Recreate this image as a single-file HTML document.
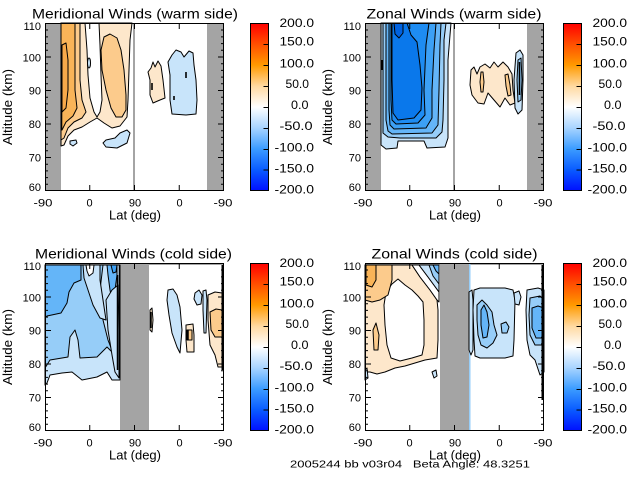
<!DOCTYPE html>
<html><head><meta charset="utf-8"><style>
html,body{margin:0;padding:0;background:#fff;}
svg{display:block;}
text{font-family:"Liberation Sans",sans-serif;fill:#000;}
</style></head><body>
<svg width="640" height="480" viewBox="0 0 640 480" xmlns="http://www.w3.org/2000/svg">
<defs>
<linearGradient id="cb" x1="0" y1="0" x2="0" y2="1">
<stop offset="0" stop-color="#ff0000"/>
<stop offset="0.125" stop-color="#ff5000"/>
<stop offset="0.25" stop-color="#ff9a00"/>
<stop offset="0.375" stop-color="#ffd9a0"/>
<stop offset="0.5" stop-color="#ffffff"/>
<stop offset="0.625" stop-color="#a8d4ff"/>
<stop offset="0.75" stop-color="#3c9cff"/>
<stop offset="0.875" stop-color="#0a5cff"/>
<stop offset="1" stop-color="#0010ff"/>
</linearGradient>
</defs>
<rect width="640" height="480" fill="#fff"/>

<!-- ================= TL ================= -->
<g stroke="#000" stroke-width="1" stroke-linejoin="round">
<rect x="45" y="23" width="179" height="168" fill="#fff" stroke="none"/>
<rect x="45" y="23" width="16" height="168" fill="#a4a4a4" stroke="none"/>
<rect x="207" y="23" width="17" height="168" fill="#a4a4a4" stroke="none"/>
<rect x="133" y="23" width="2" height="168" fill="#a4a4a4" stroke="none"/>
<polygon fill="#fde7cb" points="61,23 132,23 130,40 129,70 128,100 127,117 120,126 112,128 104,123 97,118 90,122 82,127 74,130 68,136 64,145 61,146"/>
<polygon fill="#fccb8c" points="104,37 110,34 117,38 121,50 124,70 126,95 126,110 122,117 116,117 111,108 106,90 102,70 101,50"/>
<polygon fill="#ffffff" points="85,23 99,23 100,45 101,75 102,100 100,112 97,117 94,112 90,98 88,75 87,50"/>
<polygon fill="#fccb8c" points="61,23 80,23 80,45 80,80 82,100 86,112 82,118 74,122 68,128 64,138 61,140"/>
<polygon fill="#f9b458" points="61,23 75,23 75,50 75,90 77,108 73,116 66,122 62,130 61,130"/>
<polygon fill="#f7a94a" points="62,45 66,43 68,60 68,90 66,108 62,112"/>
<ellipse cx="89" cy="63" rx="1.5" ry="5" fill="#c8e4fa"/>
<polygon fill="#fde7cb" points="151,68 153,62 155,67 158,61 161,66 163,80 165,98 160,100 153,103 150,95 150,80 148,72"/>
<polygon fill="#c8e4fa" points="172,55 176,50 181,52 184,57 189,51 193,53 194,65 196,80 197,100 196,114 186,115 172,114 170,100 170,75 168,62"/>
<polygon fill="#c8e4fa" points="106,140 115,138 120,133 127,130 130,133 127,143 117,148 106,147 103,143"/>
<polygon fill="#c8e4fa" points="70,141 76,140 77,143 73,146 70,144"/>
<path d="M61.5,85V130M186,72V78M174,96V100M152,83V90" fill="none" stroke-width="1.6"/>
</g>

<!-- ================= TR ================= -->
<g stroke="#000" stroke-width="1" stroke-linejoin="round">
<rect x="365" y="23" width="179" height="168" fill="#fff" stroke="none"/>
<rect x="365" y="23" width="16" height="168" fill="#a4a4a4" stroke="none"/>
<rect x="527" y="23" width="17" height="168" fill="#a4a4a4" stroke="none"/>
<rect x="453" y="23" width="2" height="168" fill="#a4a4a4" stroke="none"/>
<polygon fill="#c8e4fa" points="381,23 451,23 450,35 448,60 448,100 448,138 445,147 427,148 424,141 398,141 397,148 386,149 381,145"/>
<polygon fill="#96cdf8" points="383,23 446,23 444,40 444,80 443,120 442,132 436,138 400,138 388,137 383,133"/>
<polygon fill="#64b5f8" points="386,23 441,23 440,45 439,90 438,125 432,133 392,134 388,131 386,120"/>
<polygon fill="#3ca0f5" points="389,23 436,23 434,50 432,90 432,118 426,128 394,129 390,125 389,110"/>
<polygon fill="#1e8cf2" points="391,23 429,23 426,45 424,90 425,115 418,123 396,124 392,120 391,100"/>
<polygon fill="#0a78eb" points="392,23 407,23 411,35 417,42 420,65 422,88 421,110 414,118 398,120 393,113 392,80"/>
<polygon fill="#0062e0" points="394,23 403,23 403,33 399,38 395,34"/>
<polygon fill="#fde7cb" points="471,70 474,67 477,74 480,67 485,64 490,68 494,62 498,67 503,62 508,67 512,74 513,90 515,103 510,105 505,98 500,107 494,100 488,93 484,104 478,103 472,95 470,85"/>
<polygon fill="#fccb8c" points="481,72 483,72 484,82 483,92 481,92 480,82"/>
<polygon fill="#fccb8c" points="505,75 508,74 510,85 511,95 508,96 506,86"/>
<polygon fill="#c8e4fa" points="516,53 520,50 523,55 523,80 522,110 518,114 515,108 514,80"/>
<polygon fill="#96cdf8" points="518,60 521,58 522,80 521,100 518,102 517,80"/>
<path d="M519.5,62V95M382,60V70" fill="none" stroke-width="1.6"/>
</g>

<!-- ================= BL ================= -->
<g stroke="#000" stroke-width="1" stroke-linejoin="round">
<rect x="45" y="263" width="179" height="168" fill="#fff" stroke="none"/>
<rect x="120" y="263" width="29" height="168" fill="#a4a4a4" stroke="none"/>
<rect x="45" y="263" width="179" height="2" fill="#a4a4a4" stroke="none"/>
<polygon fill="#c8e4fa" points="45,265 120,265 120,380 112,380 107,372 97,377 82,380 72,372 62,373 50,375 47,383 45,385"/>
<polygon fill="#96cdf8" points="45,265 103,265 100,290 103,320 108,340 113,353 107,347 97,357 80,358 78,340 75,330 70,337 68,357 50,360 45,368"/>
<polygon fill="#c8e4fa" points="83,265 100,265 100,280 103,300 106,320 100,318 93,305 88,290 84,278"/>
<polygon fill="#ffffff" points="86,265 94,265 93,273 89,276 87,271"/>
<polygon fill="#64b5f8" points="45,265 81,265 81,280 74,283 69,292 67,303 61,313 47,316 45,318"/>
<polygon fill="#64b5f8" points="107,265 117,265 117,275 115,290 112,300 110,290 108,275"/>
<polygon fill="#3ca0f5" points="111,265 117,265 116,272 113,273"/>
<polygon fill="#c8e4fa" points="106,300 112,290 118,285 119,330 119,378 115,372 112,355 108,330"/>
<polygon fill="#fde7cb" points="150,310 152,308 153,320 152,332 150,330"/>
<polygon fill="#c8e4fa" points="168,290 173,289 177,295 180,307 182,330 180,353 177,347 172,333 169,315 167,300"/>
<polygon fill="#fde7cb" points="186,325 193,324 194,335 194,352 187,352 186,340"/>
<polygon fill="#fccb8c" points="187,330 192,330 192,340 187,340"/>
<polygon fill="#c8e4fa" points="195,293 199,290 202,295 201,304 197,305 194,299"/>
<polygon fill="#c8e4fa" points="203,291 206,290 207,300 206,333 204,333 203,310"/>
<polygon fill="#fde7cb" points="208,295 215,292 222,293 222,367 218,367 215,355 210,345 208,320"/>
<polygon fill="#fccb8c" points="210,312 216,309 222,310 222,337 215,337 211,330"/>
<path d="M117.5,275V370M119.5,265V378M188,330V340M151,312V328" fill="none" stroke-width="1.5"/>
<path d="M222.5,265V370" fill="none" stroke-width="2"/>
</g>

<!-- ================= BR ================= -->
<g stroke="#000" stroke-width="1" stroke-linejoin="round">
<rect x="365" y="263" width="179" height="168" fill="#fff" stroke="none"/>
<rect x="440" y="263" width="29" height="168" fill="#a4a4a4" stroke="none"/>
<rect x="365" y="263" width="75" height="2" fill="#a4a4a4" stroke="none"/>
<rect x="469" y="263" width="75" height="2" fill="#a4a4a4" stroke="none"/>
<rect x="469" y="263" width="1.5" height="168" fill="#96cdf8" stroke="none"/>
<polygon fill="#fde7cb" points="365,265 412,265 420,277 430,290 437,300 438,310 438,340 437,358 425,360 415,363 405,366 395,368 385,372 377,374 370,372 365,372"/>
<polygon fill="#ffffff" points="386,292 392,284 398,279 405,285 412,290 418,296 423,302 424,320 424,345 422,355 412,358 400,361 391,358 387,345 385,325 384,305"/>
<polygon fill="#ffffff" points="412,265 419,265 428,277 439,292 439,302 437,300 430,290 420,277"/>
<polygon fill="#c8e4fa" points="419,265 439,265 439,292 428,277"/>
<polygon fill="#96cdf8" points="429,265 439,265 439,284 433,276"/>
<polygon fill="#64b5f8" points="433,265 439,265 439,274 436,271"/>
<polygon fill="#fccb8c" points="365,265 392,265 392,280 388,295 380,300 372,302 365,300"/>
<polygon fill="#f9b458" points="366,265 376,265 376,280 372,287 366,285"/>
<polygon fill="#fccb8c" points="373,330 376,323 379,335 378,350 374,350"/>
<polygon fill="#c8e4fa" points="365,370 367,368 368,378 365,380"/>
<polygon fill="#c8e4fa" points="432,372 436,370 437,376 434,378"/>
<polygon fill="#c8e4fa" points="474,290 480,288 505,288 513,290 515,300 514,340 513,356 505,358 480,358 475,356 474,340 473,310"/>
<polygon fill="#c8e4fa" points="469,292 472,290 473,300 473,350 471,355 469,350"/>
<polygon fill="#96cdf8" points="477,305 482,300 487,305 492,312 494,325 497,335 493,343 487,348 481,345 478,335 477,320"/>
<polygon fill="#64b5f8" points="481,310 484,305 487,312 489,325 487,337 483,338 481,325"/>
<polygon fill="#96cdf8" points="501,324 506,322 509,327 507,333 502,333"/>
<polygon fill="#c8e4fa" points="514,293 519,291 521,297 519,305 515,304"/>
<polygon fill="#c8e4fa" points="527,290 538,288 544,290 544,372 540,375 535,360 530,355 527,340 526,310"/>
<polygon fill="#96cdf8" points="530,298 540,296 544,300 544,345 535,345 530,335 529,315"/>
<polygon fill="#64b5f8" points="532,308 538,306 544,308 544,338 536,338 532,328"/>
<path d="M542.5,265V400" fill="none" stroke-width="2"/>
</g>

<!-- ================= Axes boxes & ticks ================= -->
<g id="ax" fill="none" stroke="#000" stroke-width="1">
<g transform="translate(45,23)">
<rect x="0.5" y="0.5" width="178" height="167"/>
<path d="M0,0.5h6M0,34h6M0,67.5h6M0,101h6M0,134.5h6M0,167.5h6M0,7h3M0,13.9h3M0,20.6h3M0,27.3h3M0,40.7h3M0,47.4h3M0,54.1h3M0,60.8h3M0,74.2h3M0,80.9h3M0,87.6h3M0,94.3h3M0,107.7h3M0,114.4h3M0,121.1h3M0,127.8h3M0,141.2h3M0,147.9h3M0,154.6h3M0,161.3h3"/>
<path d="M179,0.5h-6M179,34h-6M179,67.5h-6M179,101h-6M179,134.5h-6M179,167.5h-6M179,7h-3M179,13.9h-3M179,20.6h-3M179,27.3h-3M179,40.7h-3M179,47.4h-3M179,54.1h-3M179,60.8h-3M179,74.2h-3M179,80.9h-3M179,87.6h-3M179,94.3h-3M179,107.7h-3M179,114.4h-3M179,121.1h-3M179,127.8h-3M179,141.2h-3M179,147.9h-3M179,154.6h-3M179,161.3h-3"/>
<path d="M44.75,168v-6M89.5,168v-6M134.25,168v-6M44.75,0v6M89.5,0v6M134.25,0v6"/>
</g>
<g transform="translate(365,23)">
<rect x="0.5" y="0.5" width="178" height="167"/>
<path d="M0,0.5h6M0,34h6M0,67.5h6M0,101h6M0,134.5h6M0,167.5h6M0,7h3M0,13.9h3M0,20.6h3M0,27.3h3M0,40.7h3M0,47.4h3M0,54.1h3M0,60.8h3M0,74.2h3M0,80.9h3M0,87.6h3M0,94.3h3M0,107.7h3M0,114.4h3M0,121.1h3M0,127.8h3M0,141.2h3M0,147.9h3M0,154.6h3M0,161.3h3"/>
<path d="M179,0.5h-6M179,34h-6M179,67.5h-6M179,101h-6M179,134.5h-6M179,167.5h-6M179,7h-3M179,13.9h-3M179,20.6h-3M179,27.3h-3M179,40.7h-3M179,47.4h-3M179,54.1h-3M179,60.8h-3M179,74.2h-3M179,80.9h-3M179,87.6h-3M179,94.3h-3M179,107.7h-3M179,114.4h-3M179,121.1h-3M179,127.8h-3M179,141.2h-3M179,147.9h-3M179,154.6h-3M179,161.3h-3"/>
<path d="M44.75,168v-6M89.5,168v-6M134.25,168v-6M44.75,0v6M89.5,0v6M134.25,0v6"/>
</g>
<g transform="translate(45,263)">
<rect x="0.5" y="0.5" width="178" height="167"/>
<path d="M0,0.5h6M0,34h6M0,67.5h6M0,101h6M0,134.5h6M0,167.5h6M0,7h3M0,13.9h3M0,20.6h3M0,27.3h3M0,40.7h3M0,47.4h3M0,54.1h3M0,60.8h3M0,74.2h3M0,80.9h3M0,87.6h3M0,94.3h3M0,107.7h3M0,114.4h3M0,121.1h3M0,127.8h3M0,141.2h3M0,147.9h3M0,154.6h3M0,161.3h3"/>
<path d="M179,0.5h-6M179,34h-6M179,67.5h-6M179,101h-6M179,134.5h-6M179,167.5h-6M179,7h-3M179,13.9h-3M179,20.6h-3M179,27.3h-3M179,40.7h-3M179,47.4h-3M179,54.1h-3M179,60.8h-3M179,74.2h-3M179,80.9h-3M179,87.6h-3M179,94.3h-3M179,107.7h-3M179,114.4h-3M179,121.1h-3M179,127.8h-3M179,141.2h-3M179,147.9h-3M179,154.6h-3M179,161.3h-3"/>
<path d="M44.75,168v-6M89.5,168v-6M134.25,168v-6M44.75,0v6M89.5,0v6M134.25,0v6"/>
</g>
<g transform="translate(365,263)">
<rect x="0.5" y="0.5" width="178" height="167"/>
<path d="M0,0.5h6M0,34h6M0,67.5h6M0,101h6M0,134.5h6M0,167.5h6M0,7h3M0,13.9h3M0,20.6h3M0,27.3h3M0,40.7h3M0,47.4h3M0,54.1h3M0,60.8h3M0,74.2h3M0,80.9h3M0,87.6h3M0,94.3h3M0,107.7h3M0,114.4h3M0,121.1h3M0,127.8h3M0,141.2h3M0,147.9h3M0,154.6h3M0,161.3h3"/>
<path d="M179,0.5h-6M179,34h-6M179,67.5h-6M179,101h-6M179,134.5h-6M179,167.5h-6M179,7h-3M179,13.9h-3M179,20.6h-3M179,27.3h-3M179,40.7h-3M179,47.4h-3M179,54.1h-3M179,60.8h-3M179,74.2h-3M179,80.9h-3M179,87.6h-3M179,94.3h-3M179,107.7h-3M179,114.4h-3M179,121.1h-3M179,127.8h-3M179,141.2h-3M179,147.9h-3M179,154.6h-3M179,161.3h-3"/>
<path d="M44.75,168v-6M89.5,168v-6M134.25,168v-6M44.75,0v6M89.5,0v6M134.25,0v6"/>
</g>
</g>

<!-- ================= Colorbars ================= -->
<g stroke="#000" stroke-width="1" fill="none">
<rect x="250.5" y="23.5" width="18" height="167" fill="url(#cb)"/>
<path d="M268.5,44.5h-5M268.5,65.5h-5M268.5,86.5h-5M268.5,107.5h-5M268.5,128.5h-5M268.5,149.5h-5M268.5,170h-5"/>
<rect x="563.5" y="23.5" width="18" height="167" fill="url(#cb)"/>
<path d="M581.5,44.5h-5M581.5,65.5h-5M581.5,86.5h-5M581.5,107.5h-5M581.5,128.5h-5M581.5,149.5h-5M581.5,170h-5"/>
<rect x="250.5" y="263.5" width="18" height="167" fill="url(#cb)"/>
<path d="M268.5,284.5h-5M268.5,305.5h-5M268.5,326.5h-5M268.5,347.5h-5M268.5,368.5h-5M268.5,389.5h-5M268.5,410h-5"/>
<rect x="563.5" y="263.5" width="18" height="167" fill="url(#cb)"/>
<path d="M581.5,284.5h-5M581.5,305.5h-5M581.5,326.5h-5M581.5,347.5h-5M581.5,368.5h-5M581.5,389.5h-5M581.5,410h-5"/>
</g>

<!-- ================= Text ================= -->
<g font-size="14" text-anchor="middle">
<text x="135" y="18.5" textLength="206" lengthAdjust="spacingAndGlyphs">Meridional Winds (warm side)</text>
<text x="454" y="18.5" textLength="175" lengthAdjust="spacingAndGlyphs">Zonal Winds (warm side)</text>
<text x="133.5" y="258.5" textLength="197" lengthAdjust="spacingAndGlyphs">Meridional Winds (cold side)</text>
<text x="454.5" y="258.5" textLength="166" lengthAdjust="spacingAndGlyphs">Zonal Winds (cold side)</text>
</g>
<g font-size="13" text-anchor="middle">
<text transform="translate(12,107) rotate(-90)" textLength="76" lengthAdjust="spacingAndGlyphs">Altitude (km)</text>
<text transform="translate(332,107) rotate(-90)" textLength="76" lengthAdjust="spacingAndGlyphs">Altitude (km)</text>
<text transform="translate(12,347) rotate(-90)" textLength="76" lengthAdjust="spacingAndGlyphs">Altitude (km)</text>
<text transform="translate(332,347) rotate(-90)" textLength="76" lengthAdjust="spacingAndGlyphs">Altitude (km)</text>
<text x="135" y="219.5" textLength="52" lengthAdjust="spacingAndGlyphs">Lat (deg)</text>
<text x="455" y="219.5" textLength="52" lengthAdjust="spacingAndGlyphs">Lat (deg)</text>
<text x="135" y="459.5" textLength="52" lengthAdjust="spacingAndGlyphs">Lat (deg)</text>
<text x="455" y="459.5" textLength="52" lengthAdjust="spacingAndGlyphs">Lat (deg)</text>
</g>

<!-- x tick labels -->
<g font-size="11" text-anchor="middle">
<text x="43" y="206.5" textLength="19" lengthAdjust="spacingAndGlyphs">-90</text>
<text x="89.5" y="206.5">0</text>
<text x="135" y="206.5">90</text>
<text x="179.5" y="206.5">0</text>
<text x="223" y="206.5" textLength="19" lengthAdjust="spacingAndGlyphs">-90</text>
<text x="363" y="206.5" textLength="19" lengthAdjust="spacingAndGlyphs">-90</text>
<text x="409.5" y="206.5">0</text>
<text x="455" y="206.5">90</text>
<text x="499.5" y="206.5">0</text>
<text x="543" y="206.5" textLength="19" lengthAdjust="spacingAndGlyphs">-90</text>
<text x="43" y="446.5" textLength="19" lengthAdjust="spacingAndGlyphs">-90</text>
<text x="89.5" y="446.5">0</text>
<text x="135" y="446.5">90</text>
<text x="179.5" y="446.5">0</text>
<text x="223" y="446.5" textLength="19" lengthAdjust="spacingAndGlyphs">-90</text>
<text x="363" y="446.5" textLength="19" lengthAdjust="spacingAndGlyphs">-90</text>
<text x="409.5" y="446.5">0</text>
<text x="455" y="446.5">90</text>
<text x="499.5" y="446.5">0</text>
<text x="543" y="446.5" textLength="19" lengthAdjust="spacingAndGlyphs">-90</text>
</g>

<!-- y tick labels -->
<g font-size="11" text-anchor="end">
<text x="41" y="30">110</text><text x="41" y="61.7">100</text><text x="41" y="94.5">90</text><text x="41" y="128">80</text><text x="41" y="161.7">70</text><text x="41" y="190.8">60</text>
<text x="361" y="30">110</text><text x="361" y="61.7">100</text><text x="361" y="94.5">90</text><text x="361" y="128">80</text><text x="361" y="161.7">70</text><text x="361" y="190.8">60</text>
<text x="41" y="270">110</text><text x="41" y="301.7">100</text><text x="41" y="334.5">90</text><text x="41" y="368">80</text><text x="41" y="401.7">70</text><text x="41" y="430.8">60</text>
<text x="361" y="270">110</text><text x="361" y="301.7">100</text><text x="361" y="334.5">90</text><text x="361" y="368">80</text><text x="361" y="401.7">70</text><text x="361" y="430.8">60</text>
</g>

<!-- colorbar labels -->
<g font-size="11.5" lengthAdjust="spacingAndGlyphs">
<g>
<text x="279.5" y="27" textLength="34.5" lengthAdjust="spacingAndGlyphs">200.0</text>
<text x="279.5" y="45.6" textLength="34.5" lengthAdjust="spacingAndGlyphs">150.0</text>
<text x="279.5" y="67.3" textLength="34.5" lengthAdjust="spacingAndGlyphs">100.0</text>
<text x="285.5" y="88.1" textLength="23.5" lengthAdjust="spacingAndGlyphs">50.0</text>
<text x="291" y="109" textLength="17.5" lengthAdjust="spacingAndGlyphs">0.0</text>
<text x="279.5" y="130" textLength="33" lengthAdjust="spacingAndGlyphs">-50.0</text>
<text x="274.5" y="151.5" textLength="39.5" lengthAdjust="spacingAndGlyphs">-100.0</text>
<text x="274.5" y="172.3" textLength="39.5" lengthAdjust="spacingAndGlyphs">-150.0</text>
<text x="274.5" y="193.6" textLength="39.5" lengthAdjust="spacingAndGlyphs">-200.0</text>
</g>
<g transform="translate(313,0)">
<text x="279.5" y="27" textLength="34.5" lengthAdjust="spacingAndGlyphs">200.0</text>
<text x="279.5" y="45.6" textLength="34.5" lengthAdjust="spacingAndGlyphs">150.0</text>
<text x="279.5" y="67.3" textLength="34.5" lengthAdjust="spacingAndGlyphs">100.0</text>
<text x="285.5" y="88.1" textLength="23.5" lengthAdjust="spacingAndGlyphs">50.0</text>
<text x="291" y="109" textLength="17.5" lengthAdjust="spacingAndGlyphs">0.0</text>
<text x="279.5" y="130" textLength="33" lengthAdjust="spacingAndGlyphs">-50.0</text>
<text x="274.5" y="151.5" textLength="39.5" lengthAdjust="spacingAndGlyphs">-100.0</text>
<text x="274.5" y="172.3" textLength="39.5" lengthAdjust="spacingAndGlyphs">-150.0</text>
<text x="274.5" y="193.6" textLength="39.5" lengthAdjust="spacingAndGlyphs">-200.0</text>
</g>
<g transform="translate(0,240)">
<text x="279.5" y="27" textLength="34.5" lengthAdjust="spacingAndGlyphs">200.0</text>
<text x="279.5" y="45.6" textLength="34.5" lengthAdjust="spacingAndGlyphs">150.0</text>
<text x="279.5" y="67.3" textLength="34.5" lengthAdjust="spacingAndGlyphs">100.0</text>
<text x="285.5" y="88.1" textLength="23.5" lengthAdjust="spacingAndGlyphs">50.0</text>
<text x="291" y="109" textLength="17.5" lengthAdjust="spacingAndGlyphs">0.0</text>
<text x="279.5" y="130" textLength="33" lengthAdjust="spacingAndGlyphs">-50.0</text>
<text x="274.5" y="151.5" textLength="39.5" lengthAdjust="spacingAndGlyphs">-100.0</text>
<text x="274.5" y="172.3" textLength="39.5" lengthAdjust="spacingAndGlyphs">-150.0</text>
<text x="274.5" y="193.6" textLength="39.5" lengthAdjust="spacingAndGlyphs">-200.0</text>
</g>
<g transform="translate(313,240)">
<text x="279.5" y="27" textLength="34.5" lengthAdjust="spacingAndGlyphs">200.0</text>
<text x="279.5" y="45.6" textLength="34.5" lengthAdjust="spacingAndGlyphs">150.0</text>
<text x="279.5" y="67.3" textLength="34.5" lengthAdjust="spacingAndGlyphs">100.0</text>
<text x="285.5" y="88.1" textLength="23.5" lengthAdjust="spacingAndGlyphs">50.0</text>
<text x="291" y="109" textLength="17.5" lengthAdjust="spacingAndGlyphs">0.0</text>
<text x="279.5" y="130" textLength="33" lengthAdjust="spacingAndGlyphs">-50.0</text>
<text x="274.5" y="151.5" textLength="39.5" lengthAdjust="spacingAndGlyphs">-100.0</text>
<text x="274.5" y="172.3" textLength="39.5" lengthAdjust="spacingAndGlyphs">-150.0</text>
<text x="274.5" y="193.6" textLength="39.5" lengthAdjust="spacingAndGlyphs">-200.0</text>
</g>
</g>

<text x="290" y="467.5" font-size="10.5" style="white-space:pre" textLength="240" lengthAdjust="spacingAndGlyphs">2005244 bb v03r04   Beta Angle: 48.3251</text>
</svg>
</body></html>
